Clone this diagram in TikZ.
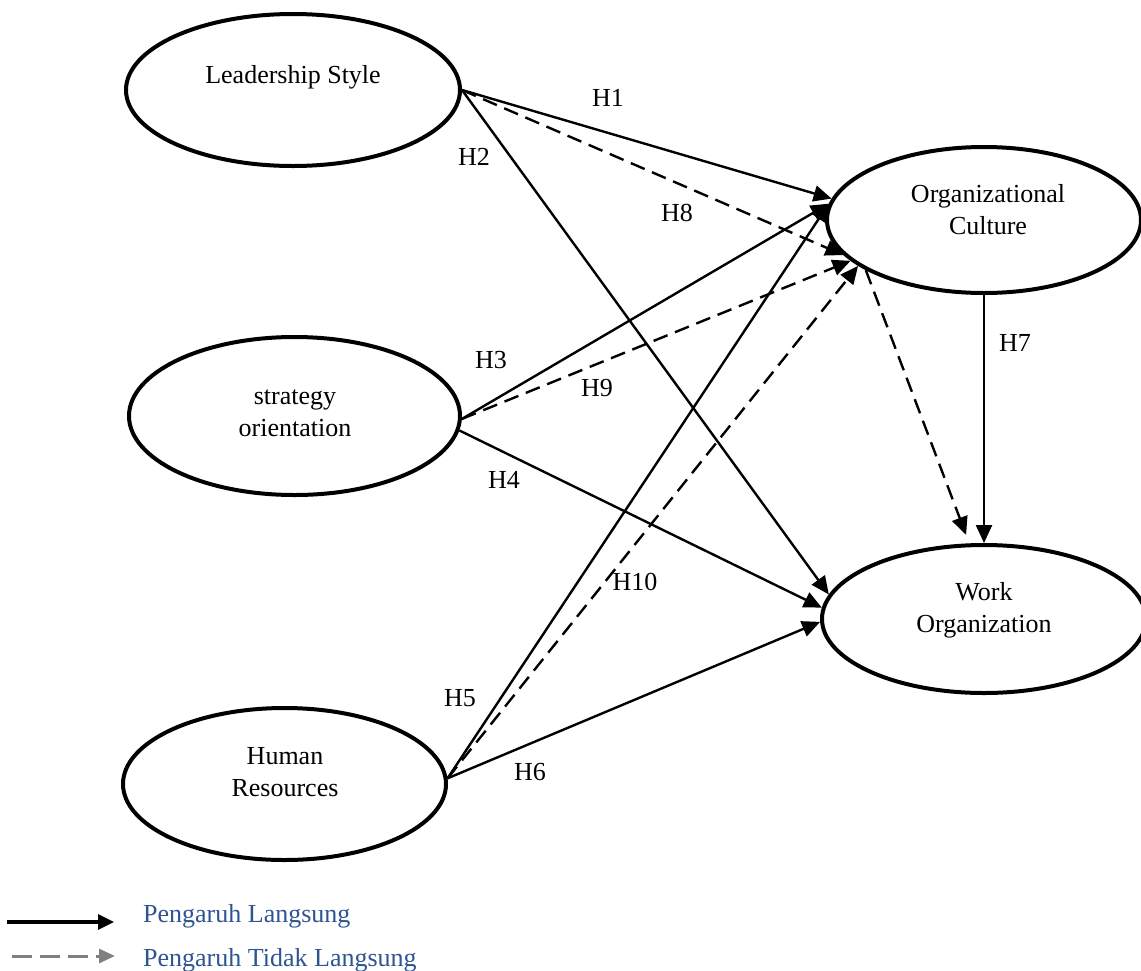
\documentclass[tikz,border=0pt]{standalone}
\usepackage{fontspec}
\setmainfont{Liberation Serif}
\usetikzlibrary{arrows.meta,shapes.geometric}
\definecolor{legblue}{RGB}{46,84,145}
\definecolor{leggray}{RGB}{128,128,128}
\tikzset{
  ell/.style={ellipse, draw, line width=4pt, inner sep=0pt},
  txt/.style={font=\fontsize{26}{32}\selectfont, align=center, inner sep=0pt},
  hyp/.style={font=\fontsize{26}{32}\selectfont, inner sep=0pt},
  direct/.style={line width=2.4pt, -{Triangle[length=18pt,width=16pt]}},
  indirect/.style={direct, dash pattern=on 15pt off 8pt},
  legtxt/.style={font=\fontsize{26}{32}\selectfont, text=legblue, inner sep=0pt, anchor=base west},
}
\begin{document}
\begin{tikzpicture}[x=1pt,y=-1pt]
\useasboundingbox (0,0) rectangle (1141,970);
% ellipses
\node[ell, minimum width=334pt, minimum height=152pt] (ls) at (293,90) {};
\node[ell, minimum width=331pt, minimum height=158pt] (so) at (294.5,416) {};
\node[ell, minimum width=323pt, minimum height=152pt] (hr) at (284.5,784) {};
\node[ell, minimum width=314pt, minimum height=146pt] (oc) at (984,220) {};
\node[ell, minimum width=324pt, minimum height=148pt] (wo) at (984,619) {};
% texts
\node[txt] (lst) at (293,77) {Leadership Style};
\node[txt] (sot) at (295,413) {strategy\\orientation};
\node[txt] (hrt) at (285,772) {Human\\Resources};
\node[txt] (oct) at (988,210) {Organizational\\Culture};
\node[txt] (wot) at (984,610) {Work\\Organization};
% direct effects
\draw[direct] (ls.east) -- (oc.172);
\draw[direct] (ls.east) -- (wo.171.8);
\draw[direct] (so.-1) -- (oc.174.6);
\draw[direct] (so.-5) -- (wo.176.2);
\draw[direct] (hr.2) -- (oc.174.6);
\draw[direct] (hr.2) -- (wo.181.7);
\draw[direct] (oc.south) -- (wo.north);
% indirect effects
\draw[indirect] (ls.east) -- (oc.194.4);
\draw[indirect] (so.-1) -- (oc.197.5);
\draw[indirect] (hr.2) -- (oc.200);
\draw[indirect, shorten >=9pt] (oc.203) -- (wo.101.2);
% hypothesis labels
\node[hyp] (h1) at (608,98) {H1};
\node[hyp] (h2) at (474,157) {H2};
\node[hyp] (h3) at (491,360) {H3};
\node[hyp] (h4) at (504,480) {H4};
\node[hyp] (h5) at (460,698) {H5};
\node[hyp] (h6) at (530,772) {H6};
\node[hyp] (h7) at (1015,343) {H7};
\node[hyp] (h8) at (677,213) {H8};
\node[hyp] (h9) at (597,388) {H9};
\node[hyp] (h10) at (635,582) {H10};
% legend
\coordinate (la1) at (7,922);
\coordinate (la2) at (114,922);
\coordinate (lb1) at (12,956);
\coordinate (lb2) at (115,956);
\draw[line width=3.2pt, -{Triangle[length=16pt,width=15pt]}] (la1) -- (la2);
\draw[line width=3pt, leggray, dash pattern=on 20pt off 8pt, -{Triangle[length=16pt,width=14pt]}] (lb1) -- (lb2);
\node[legtxt] (l1) at (143,922) {Pengaruh Langsung};
\node[legtxt] (l2) at (143,966) {Pengaruh Tidak Langsung};
\end{tikzpicture}
\end{document}
